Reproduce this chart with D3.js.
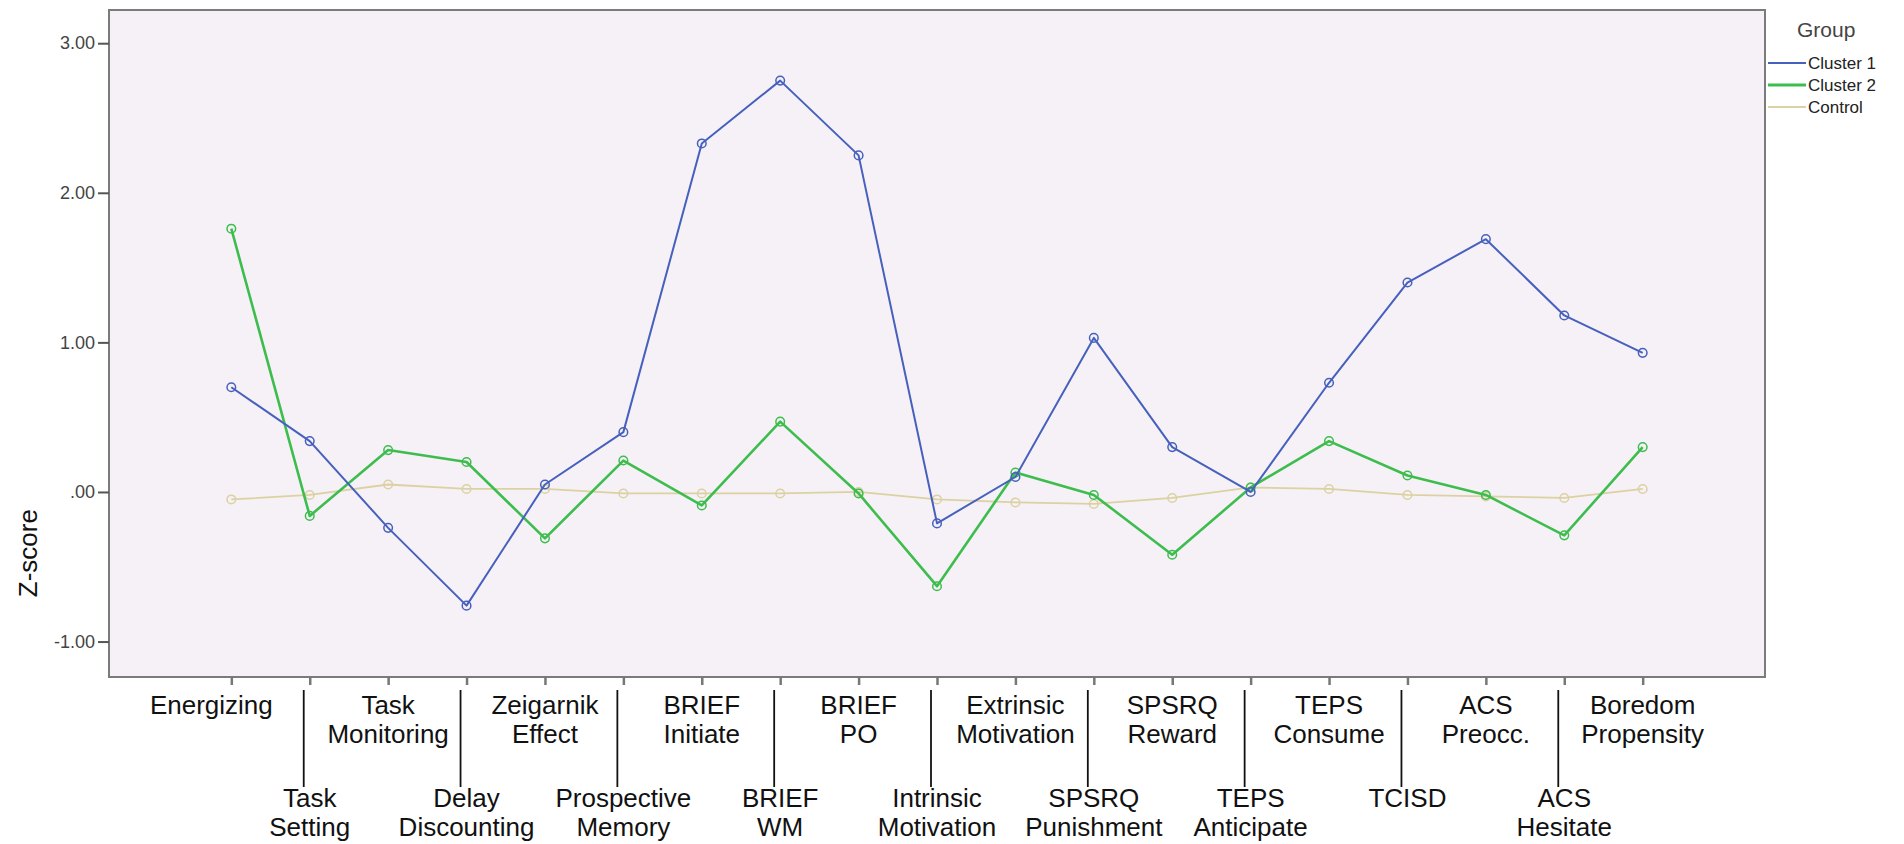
<!DOCTYPE html>
<html>
<head>
<meta charset="utf-8">
<script src="https://cdn.jsdelivr.net/npm/d3@7"></script>
<style>
  html, body { margin: 0; padding: 0; background: #fff; }
  svg { display: block; font-family: "Liberation Sans", Arial, sans-serif; }
</style>
</head>
<body>
<svg id="chart" width="1904" height="844"></svg>
<script>
// ---- data ----
const categories = [
  "Energizing", "Task Setting", "Task Monitoring", "Delay Discounting",
  "Zeigarnik Effect", "Prospective Memory", "BRIEF Initiate", "BRIEF WM",
  "BRIEF PO", "Intrinsic Motivation", "Extrinsic Motivation", "SPSRQ Punishment",
  "SPSRQ Reward", "TEPS Anticipate", "TEPS Consume", "TCISD",
  "ACS Preocc.", "ACS Hesitate", "Boredom Propensity"
];
const categoryLabelLines = [
  ["Energizing"], ["Task", "Setting"], ["Task", "Monitoring"], ["Delay", "Discounting"],
  ["Zeigarnik", "Effect"], ["Prospective", "Memory"], ["BRIEF", "Initiate"], ["BRIEF", "WM"],
  ["BRIEF", "PO"], ["Intrinsic", "Motivation"], ["Extrinsic", "Motivation"], ["SPSRQ", "Punishment"],
  ["SPSRQ", "Reward"], ["TEPS", "Anticipate"], ["TEPS", "Consume"], ["TCISD"],
  ["ACS", "Preocc."], ["ACS", "Hesitate"], ["Boredom", "Propensity"]
];
const cluster1 = [0.70, 0.34, -0.24, -0.76, 0.05, 0.40, 2.33, 2.75, 2.25, -0.21, 0.10, 1.03, 0.30, 0.00, 0.73, 1.40, 1.69, 1.18, 0.93];
const cluster2 = [1.76, -0.16, 0.28, 0.20, -0.31, 0.21, -0.09, 0.47, -0.01, -0.63, 0.13, -0.02, -0.42, 0.03, 0.34, 0.11, -0.02, -0.29, 0.30];
const control  = [-0.05, -0.02, 0.05, 0.02, 0.02, -0.01, -0.01, -0.01, 0.00, -0.05, -0.07, -0.08, -0.04, 0.03, 0.02, -0.02, -0.03, -0.04, 0.02];
const seriesNames = ["Cluster 1", "Cluster 2", "Control"];
const yTickValues = [-1, 0, 1, 2, 3];
const yTickLabels = ["-1.00", ".00", "1.00", "2.00", "3.00"];
const yAxisTitle = "Z-score";
const legendTitle = "Group";

// ---- layout / style ----
const plot = { left: 109, right: 1765, top: 10, bottom: 677 };
const colors = ["#4660bd", "#3dbd4e", "#dbd1a2"];
const widths = [2, 2.6, 1.8];

const svg = d3.select("#chart");

const x = d3.scalePoint().domain(categories).range([plot.left, plot.right]).padding(1.56);
const y = d3.scaleLinear().domain([-1.237, 3.222]).range([plot.bottom, plot.top]);

// background
svg.append("rect")
  .attr("x", plot.left).attr("y", plot.top)
  .attr("width", plot.right - plot.left).attr("height", plot.bottom - plot.top)
  .attr("fill", "#f6f1f6");

// lines
const series = [cluster1, cluster2, control];
const line = d3.line().x((d, i) => x(categories[i])).y(d => y(d));
[2, 1, 0].forEach(s => {
  svg.append("path")
    .datum(series[s])
    .attr("d", line)
    .attr("fill", "none")
    .attr("stroke", colors[s])
    .attr("stroke-width", widths[s])
    .attr("stroke-linejoin", "round");
  svg.append("g").selectAll("circle")
    .data(series[s])
    .join("circle")
    .attr("cx", (d, i) => x(categories[i]))
    .attr("cy", d => y(d))
    .attr("r", 4.3)
    .attr("fill", "none")
    .attr("stroke", colors[s])
    .attr("stroke-width", 1.5);
});

// border
svg.append("rect")
  .attr("x", plot.left).attr("y", plot.top)
  .attr("width", plot.right - plot.left).attr("height", plot.bottom - plot.top)
  .attr("fill", "none").attr("stroke", "#7b7b7b").attr("stroke-width", 2);

// y axis
const yAxis = d3.axisLeft(y).tickValues(yTickValues)
  .tickFormat((d, i) => yTickLabels[i]).tickSize(11).tickPadding(3);
const gy = svg.append("g").attr("transform", `translate(${plot.left},0)`).call(yAxis);
gy.select(".domain").remove();
gy.selectAll(".tick line").attr("stroke", "#555").attr("stroke-width", 2);
gy.selectAll(".tick text").attr("font-size", 18).attr("fill", "#444")
  .attr("font-family", "'Liberation Sans', Arial, sans-serif");

// y title
svg.append("text")
  .attr("transform", `translate(37,${(y(1) + y(0)) / 2 + 136}) rotate(-90)`)
  .attr("text-anchor", "middle")
  .attr("font-size", 26).attr("fill", "#111")
  .text(yAxisTitle);

// x axis ticks
const xAxis = d3.axisBottom(x).tickSize(8).tickFormat("");
const gx = svg.append("g").attr("transform", `translate(0,${plot.bottom})`).call(xAxis);
gx.select(".domain").remove();
gx.selectAll(".tick line").attr("stroke", "#777").attr("stroke-width", 2.5);

// category labels
const labels = svg.append("g").attr("font-size", 26).attr("fill", "#111").attr("text-anchor", "middle");
categories.forEach((c, i) => {
  const lower = i % 2 === 1;
  const cx = x(c) - (i === 0 ? 20 : 0);
  const base = lower ? 807 : 714;
  if (lower) {
    svg.append("line")
      .attr("x1", x(c) - 6).attr("x2", x(c) - 6)
      .attr("y1", 690).attr("y2", 787)
      .attr("stroke", "#111").attr("stroke-width", 1.8);
  }
  const t = labels.append("text").attr("x", cx).attr("y", base);
  categoryLabelLines[i].forEach((ln, j) => {
    t.append("tspan").attr("x", cx).attr("y", base + j * 29).text(ln);
  });
});

// legend
svg.append("text").attr("x", 1797).attr("y", 37)
  .attr("font-size", 21).attr("fill", "#444").text(legendTitle);
seriesNames.forEach((n, i) => {
  const ly = 63 + i * 22;
  svg.append("line").attr("x1", 1768).attr("x2", 1806).attr("y1", ly).attr("y2", ly)
    .attr("stroke", colors[i]).attr("stroke-width", i === 1 ? 3 : 2);
  svg.append("text").attr("x", 1808).attr("y", ly + 6)
    .attr("font-size", 17).attr("fill", "#222").text(n);
});
</script>
</body>
</html>
